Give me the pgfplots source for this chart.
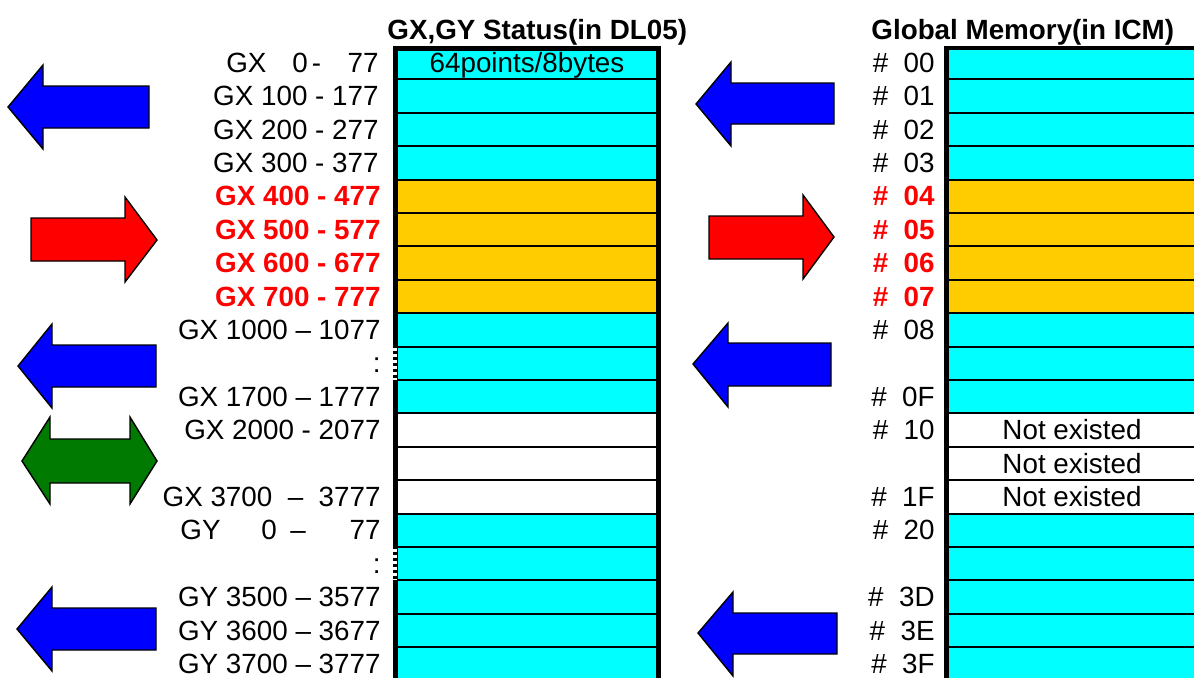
\documentclass[border=0pt]{standalone}
\usepackage{fontspec}
\setmainfont{Liberation Sans}
\usepackage{pgfplots}
\pgfplotsset{compat=1.18}
\definecolor{cellcyan}{HTML}{00FFFF}
\definecolor{cellorange}{HTML}{FFCC00}
\definecolor{arrblue}{HTML}{0000FF}
\definecolor{arrred}{HTML}{FF0000}
\definecolor{arrgreen}{HTML}{007A00}
\newcommand\lbl{\fontsize{13.9}{16}\selectfont}
\newcommand\red[1]{\textcolor{arrred}{\bfseries #1}}

\begin{document}
\begin{tikzpicture}
\begin{axis}[name=ax, width=597pt, height=338.5pt, scale only axis, hide axis,
  xmin=0, xmax=1194, ymin=0, ymax=677, y dir=reverse, clip=true,
  every axis plot/.append style={line join=miter}]

% --- cell blocks, left box (GX,GY status)
\addplot[fill=cellcyan, draw=none] coordinates {(396,46) (657,46) (657,179.6) (396,179.6)} -- cycle;
\addplot[fill=cellorange, draw=none] coordinates {(396,179.6) (657,179.6) (657,313.2) (396,313.2)} -- cycle;
\addplot[fill=cellcyan, draw=none] coordinates {(396,313.2) (657,313.2) (657,413.4) (396,413.4)} -- cycle;
\addplot[fill=white, draw=none] coordinates {(396,413.4) (657,413.4) (657,513.6) (396,513.6)} -- cycle;
\addplot[fill=cellcyan, draw=none] coordinates {(396,513.6) (657,513.6) (657,690) (396,690)} -- cycle;
% --- cell blocks, right box (global memory)
\addplot[fill=cellcyan, draw=none] coordinates {(946,46) (1199,46) (1199,179.6) (946,179.6)} -- cycle;
\addplot[fill=cellorange, draw=none] coordinates {(946,179.6) (1199,179.6) (1199,313.2) (946,313.2)} -- cycle;
\addplot[fill=cellcyan, draw=none] coordinates {(946,313.2) (1199,313.2) (1199,413.4) (946,413.4)} -- cycle;
\addplot[fill=white, draw=none] coordinates {(946,413.4) (1199,413.4) (1199,513.6) (946,513.6)} -- cycle;
\addplot[fill=cellcyan, draw=none] coordinates {(946,513.6) (1199,513.6) (1199,690) (946,690)} -- cycle;

% --- row separators
\addplot[black, line width=1pt, unbounded coords=jump] coordinates {
 (396,79.4) (657,79.4) (nan,nan) (396,112.8) (657,112.8) (nan,nan)
 (396,146.2) (657,146.2) (nan,nan) (396,179.6) (657,179.6) (nan,nan)
 (396,213) (657,213) (nan,nan) (396,246.4) (657,246.4) (nan,nan)
 (396,279.8) (657,279.8) (nan,nan) (396,313.2) (657,313.2) (nan,nan)
 (396,346.6) (657,346.6) (nan,nan) (396,380) (657,380) (nan,nan)
 (396,413.4) (657,413.4) (nan,nan) (396,446.8) (657,446.8) (nan,nan)
 (396,480.2) (657,480.2) (nan,nan) (396,513.6) (657,513.6) (nan,nan)
 (396,547) (657,547) (nan,nan) (396,580.4) (657,580.4) (nan,nan)
 (396,613.8) (657,613.8) (nan,nan) (396,647.2) (657,647.2)};
\addplot[black, line width=1pt, unbounded coords=jump] coordinates {
 (946,79.4) (1199,79.4) (nan,nan) (946,112.8) (1199,112.8) (nan,nan)
 (946,146.2) (1199,146.2) (nan,nan) (946,179.6) (1199,179.6) (nan,nan)
 (946,213) (1199,213) (nan,nan) (946,246.4) (1199,246.4) (nan,nan)
 (946,279.8) (1199,279.8) (nan,nan) (946,313.2) (1199,313.2) (nan,nan)
 (946,346.6) (1199,346.6) (nan,nan) (946,380) (1199,380) (nan,nan)
 (946,413.4) (1199,413.4) (nan,nan) (946,446.8) (1199,446.8) (nan,nan)
 (946,480.2) (1199,480.2) (nan,nan) (946,513.6) (1199,513.6) (nan,nan)
 (946,547) (1199,547) (nan,nan) (946,580.4) (1199,580.4) (nan,nan)
 (946,613.8) (1199,613.8) (nan,nan) (946,647.2) (1199,647.2)};

% --- thick outer borders
\addplot[black, line width=2.5pt] coordinates {(395.5,690) (395.5,48) (658,48) (658,690)};
\addplot[black, line width=2.2pt] coordinates {(946.5,690) (946.5,48) (1199,48)};
% broken border at the ":" rows
\addplot[white, line width=1.6pt, dash pattern=on 1.5pt off 1.5pt, unbounded coords=jump]
  coordinates {(395,348) (395,380) (nan,nan) (395,548.5) (395,580.4)};

% --- arrows, left side
\addplot[fill=arrblue, draw=black, line width=0.7pt] coordinates {(8,107) (43,65) (43,86) (149,86) (149,128) (43,128) (43,149)} -- cycle;
\addplot[fill=arrred, draw=black, line width=0.7pt] coordinates {(31,218) (125,218) (125,197) (157,240) (125,282) (125,261) (31,261)} -- cycle;
\addplot[fill=arrblue, draw=black, line width=0.7pt] coordinates {(18,366) (52,324) (52,345) (156,345) (156,387) (52,387) (52,408)} -- cycle;
\addplot[fill=arrgreen, draw=black, line width=0.7pt] coordinates {(22,461) (50,417) (50,439) (130,439) (130,417) (157,461) (130,504) (130,483) (50,483) (50,504)} -- cycle;
\addplot[fill=arrblue, draw=black, line width=0.7pt] coordinates {(17,629) (52,587) (52,608) (156,608) (156,650) (52,650) (52,671)} -- cycle;
% --- arrows, middle
\addplot[fill=arrblue, draw=black, line width=0.7pt] coordinates {(696,104) (731,62) (731,83) (834,83) (834,124) (731,124) (731,146)} -- cycle;
\addplot[fill=arrred, draw=black, line width=0.7pt] coordinates {(709,216) (803,216) (803,195) (834,237) (803,279) (803,259) (709,259)} -- cycle;
\addplot[fill=arrblue, draw=black, line width=0.7pt] coordinates {(693,364) (728,323) (728,343) (831,343) (831,386) (728,386) (728,407)} -- cycle;
\addplot[fill=arrblue, draw=black, line width=0.7pt] coordinates {(698,633) (733,592) (733,613) (837,613) (837,654) (733,654) (733,676)} -- cycle;

% --- headers
\node[anchor=base west, inner sep=0pt, font=\lbl\bfseries] at (387,39) {GX,GY Status(in DL05)};
\node[anchor=base west, inner sep=0pt, font=\lbl\bfseries] at (871,39) {Global Memory(in ICM)};

% --- cell texts
\node[anchor=base, font=\lbl] at (527,72.2) {64points/8bytes};
\node[anchor=base, font=\lbl] at (1072,439.6) {Not existed};
\node[anchor=base, font=\lbl] at (1072,473) {Not existed};
\node[anchor=base, font=\lbl] at (1072,506.4) {Not existed};

% --- left labels
\begin{scope}[every node/.style={anchor=base east, font=\lbl, inner sep=0pt}]
\node at (379,72.2) {GX\hspace{0.93em}0\hspace{0.15em}-\hspace{0.95em}77};
\node at (379,105.6) {GX 100 - 177};
\node at (379,139) {GX 200 - 277};
\node at (379,172.4) {GX 300 - 377};
\node at (381,205.8) {\red{GX 400 - 477}};
\node at (381,239.2) {\red{GX 500 - 577}};
\node at (381,272.6) {\red{GX 600 - 677}};
\node at (381,306) {\red{GX 700 - 777}};
\node at (381,339.4) {GX 1000 – 1077};
\node at (381,372.8) {:};
\node at (381,406.2) {GX 1700 – 1777};
\node at (381,439.6) {GX 2000 - 2077};
\node at (381,506.4) {GX 3700 \ – \ 3777};
\node at (381,539.8) {GY\hspace{1.47em}0\hspace{0.48em}–\hspace{1.58em}77};
\node at (381,573.2) {:};
\node at (381,606.6) {GY 3500 – 3577};
\node at (381,640) {GY 3600 – 3677};
\node at (381,673.4) {GY 3700 – 3777};
% --- right labels
\node at (935,72.2) {\#\ \ 00};
\node at (935,105.6) {\#\ \ 01};
\node at (935,139) {\#\ \ 02};
\node at (935,172.4) {\#\ \ 03};
\node at (935,205.8) {\red{\#\ \ 04}};
\node at (935,239.2) {\red{\#\ \ 05}};
\node at (935,272.6) {\red{\#\ \ 06}};
\node at (935,306) {\red{\#\ \ 07}};
\node at (935,339.4) {\#\ \ 08};
\node at (935,406.2) {\#\ \ 0F};
\node at (935,439.6) {\#\ \ 10};
\node at (935,506.4) {\#\ \ 1F};
\node at (935,539.8) {\#\ \ 20};
\node at (935,606.6) {\#\ \ 3D};
\node at (935,640) {\#\ \ 3E};
\node at (935,673.4) {\#\ \ 3F};
\end{scope}
\end{axis}
\pgfresetboundingbox
\path[use as bounding box] (ax.south west) rectangle (ax.north east);
\end{tikzpicture}
\end{document}
